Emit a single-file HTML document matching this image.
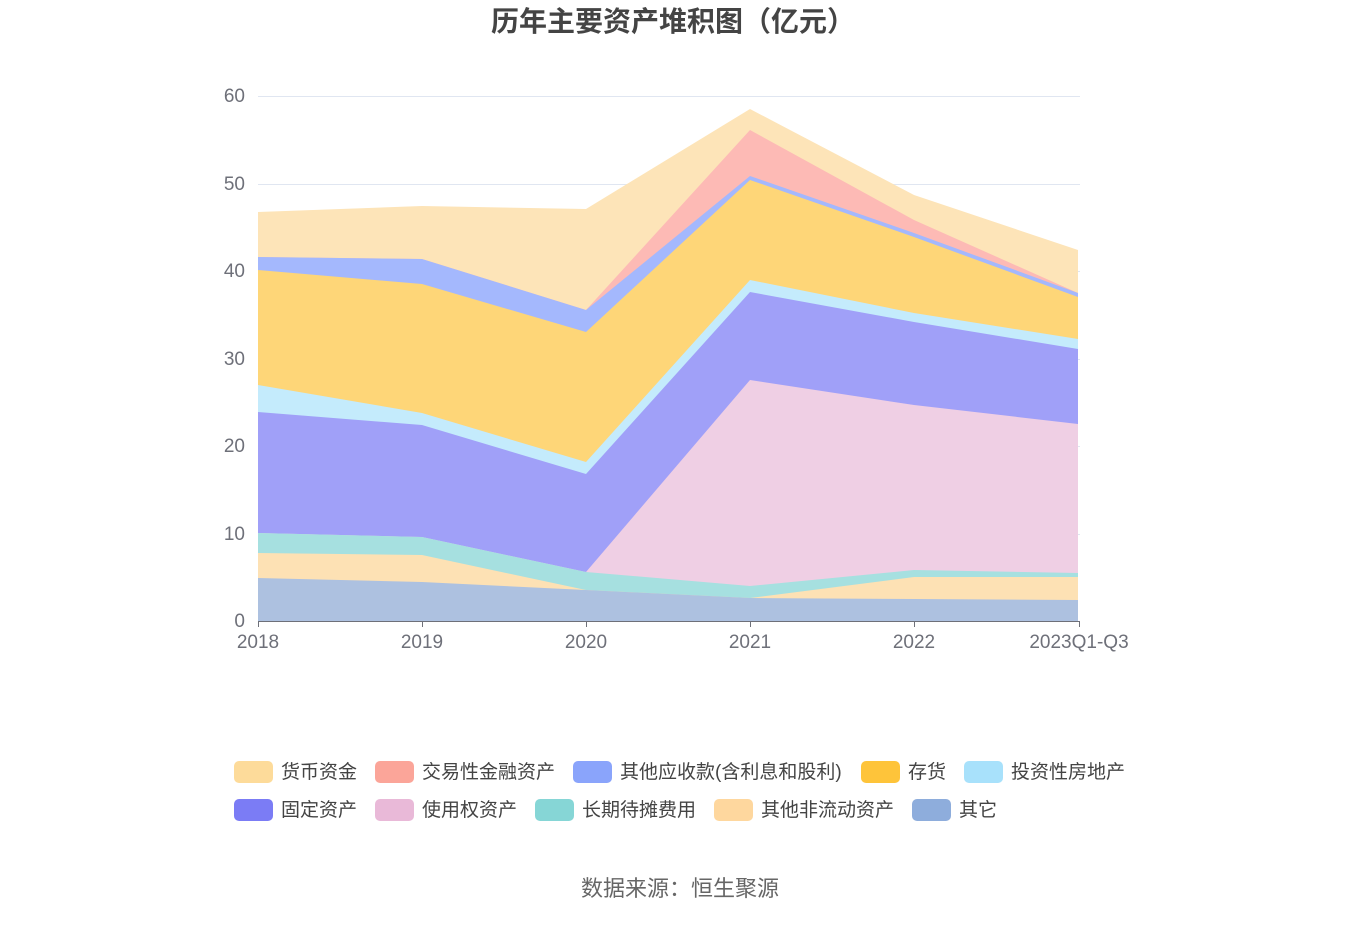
<!DOCTYPE html>
<html><head><meta charset="utf-8"><style>
body{margin:0;background:#fff;font-family:"Liberation Sans","Noto Sans CJK SC",sans-serif;}
</style></head><body>
<svg width="1360" height="920" xmlns="http://www.w3.org/2000/svg" font-family="Liberation Sans, Noto Sans CJK SC, sans-serif">
<rect width="1360" height="920" fill="#fff"/>
<text x="673" y="31" text-anchor="middle" font-size="28" font-weight="bold" fill="#444">历年主要资产堆积图（亿元）</text>
<g stroke="#e0e6f1" stroke-width="1">
<line x1="258" y1="96.5" x2="1080" y2="96.5"/><line x1="258" y1="184.5" x2="1080" y2="184.5"/><line x1="258" y1="271.5" x2="1080" y2="271.5"/><line x1="258" y1="359.5" x2="1080" y2="359.5"/><line x1="258" y1="446.5" x2="1080" y2="446.5"/><line x1="258" y1="534.5" x2="1080" y2="534.5"/>
</g>
<g font-size="19" fill="#6e7079" text-anchor="end">
<text x="245" y="102">60</text><text x="245" y="190">50</text><text x="245" y="277">40</text><text x="245" y="365">30</text><text x="245" y="452">20</text><text x="245" y="540">10</text><text x="245" y="627">0</text>
</g>
<polygon fill="#fde4b8" points="258,212 422,206 586,209 750,109 914,195 1078,250 1078,621 258,621"/>
<polygon fill="#fdbab5" points="258,257 422,259 586,310 750,130 914,220 1078,293 1078,621 258,621"/>
<polygon fill="#a4b8fd" points="258,257 422,259 586,310 750,176 914,233 1078,293 1078,621 258,621"/>
<polygon fill="#fed678" points="258,270 422,284 586,332 750,180 914,237 1078,297 1078,621 258,621"/>
<polygon fill="#c4ebfc" points="258,385 422,413 586,462 750,280 914,313 1078,339 1078,621 258,621"/>
<polygon fill="#a0a0f8" points="258,412 422,425 586,474 750,292 914,322 1078,349 1078,621 258,621"/>
<polygon fill="#efcfe4" points="258,533 422,537 586,572 750,380 914,405 1078,424 1078,621 258,621"/>
<polygon fill="#a6e0e0" points="258,533 422,537 586,572 750,586 914,570 1078,573 1078,621 258,621"/>
<polygon fill="#fde1b4" points="258,553 422,555 586,590 750,598 914,577 1078,577 1078,621 258,621"/>
<polygon fill="#adc1e0" points="258,578 422,582 586,590 750,598 914,599 1078,600 1078,621 258,621"/>
<line x1="258" y1="621.5" x2="1080" y2="621.5" stroke="#6e7079"/>
<g stroke="#6e7079"><line x1="258.5" y1="621" x2="258.5" y2="627"/><line x1="422.5" y1="621" x2="422.5" y2="627"/><line x1="586.5" y1="621" x2="586.5" y2="627"/><line x1="750.5" y1="621" x2="750.5" y2="627"/><line x1="914.5" y1="621" x2="914.5" y2="627"/><line x1="1079.5" y1="621" x2="1079.5" y2="627"/></g>
<g font-size="19" fill="#6e7079" text-anchor="middle">
<text x="258" y="648">2018</text><text x="422" y="648">2019</text><text x="586" y="648">2020</text><text x="750" y="648">2021</text><text x="914" y="648">2022</text><text x="1079" y="648">2023Q1-Q3</text>
</g>
<g font-size="19" fill="#444">
<rect x="234" y="761" width="39" height="22" rx="5" fill="#fddb9a"/><text x="281" y="778">货币资金</text>
<rect x="375" y="761" width="39" height="22" rx="5" fill="#fba599"/><text x="422" y="778">交易性金融资产</text>
<rect x="573" y="761" width="39" height="22" rx="5" fill="#8aa4fb"/><text x="620" y="778">其他应收款(含利息和股利)</text>
<rect x="861" y="761" width="39" height="22" rx="5" fill="#fec43a"/><text x="908" y="778">存货</text>
<rect x="964" y="761" width="39" height="22" rx="5" fill="#a8e1fb"/><text x="1011" y="778">投资性房地产</text>
<rect x="234" y="799" width="39" height="22" rx="5" fill="#7b7cf5"/><text x="281" y="816">固定资产</text>
<rect x="375" y="799" width="39" height="22" rx="5" fill="#e9b9d8"/><text x="422" y="816">使用权资产</text>
<rect x="535" y="799" width="39" height="22" rx="5" fill="#86d6d6"/><text x="582" y="816">长期待摊费用</text>
<rect x="714" y="799" width="39" height="22" rx="5" fill="#fed79e"/><text x="761" y="816">其他非流动资产</text>
<rect x="912" y="799" width="39" height="22" rx="5" fill="#8eaddc"/><text x="959" y="816">其它</text>
</g>
<text x="680" y="896" text-anchor="middle" font-size="22" fill="#666">数据来源：恒生聚源</text>
</svg>
</body></html>
